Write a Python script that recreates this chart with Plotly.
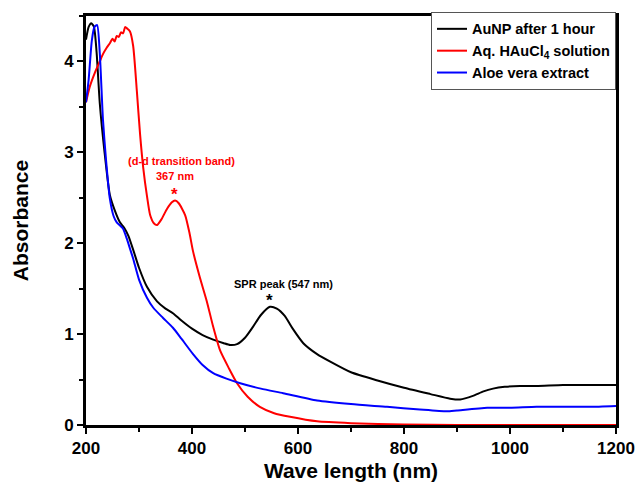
import plotly.graph_objects as go

# AuNP after 1 hour
wl_aunp = [200, 205, 210, 215, 220, 226, 235, 245, 255, 264, 272, 280, 290, 300, 315, 334, 350, 364, 380, 400,
           420, 440, 460, 472, 485, 500, 515, 530, 547, 560, 575, 590, 610, 636, 660, 700, 750, 800, 850, 887,
           906, 930, 950, 968, 990, 1019, 1050, 1100, 1150, 1200]
abs_aunp = [4.24, 4.38, 4.42, 4.38, 4.10, 3.54, 3.00, 2.53, 2.35, 2.23, 2.17, 2.08, 1.91, 1.73, 1.52, 1.36, 1.28, 1.23, 1.15, 1.06,
            0.99, 0.94, 0.90, 0.88, 0.89, 0.96, 1.08, 1.21, 1.30, 1.28, 1.20, 1.06, 0.90, 0.78, 0.70, 0.58, 0.49, 0.41, 0.34, 0.29,
            0.28, 0.32, 0.37, 0.40, 0.42, 0.43, 0.43, 0.44, 0.44, 0.44]

# Aq. HAuCl4 solution
wl_hau = [200, 207, 217, 226, 232, 239, 245, 250, 254, 258, 262, 266, 270, 274, 278, 283, 289, 296, 302,
          308, 315, 321, 328, 334, 342, 353, 362, 368, 375, 387, 395, 402, 415, 428, 440, 453, 470, 485, 505,
          528, 555, 585, 636, 700, 800, 900, 1200]
abs_hau = [3.55, 3.72, 3.88, 4.00, 4.08, 4.15, 4.20, 4.25, 4.22, 4.28, 4.27, 4.32, 4.31, 4.38, 4.36, 4.33, 4.17, 3.67, 3.20,
           2.83, 2.52, 2.31, 2.22, 2.20, 2.26, 2.38, 2.45, 2.47, 2.44, 2.31, 2.12, 1.91, 1.62, 1.36, 1.08, 0.82, 0.62, 0.46, 0.31,
           0.20, 0.13, 0.09, 0.04, 0.02, 0.005, 0.0, 0.0]

# Aloe vera extract
wl_aloe = [200, 205, 211, 216, 221, 226, 232, 238, 245, 252, 258, 265, 270, 277, 283, 289, 300, 315, 327, 345,
           364, 380, 402, 420, 440, 465, 491, 530, 572, 636, 700, 768, 830, 881, 900, 957, 1000, 1050, 1100, 1150, 1200]
abs_aloe = [3.55, 3.80, 4.23, 4.38, 4.40, 4.09, 3.36, 2.90, 2.49, 2.30, 2.23, 2.19, 2.16, 2.05, 1.94, 1.83, 1.60, 1.40, 1.29, 1.18,
            1.07, 0.95, 0.78, 0.66, 0.57, 0.51, 0.46, 0.40, 0.35, 0.27, 0.23, 0.20, 0.17, 0.15, 0.16, 0.19, 0.19, 0.20, 0.20, 0.20, 0.21]

x_ticks = [200, 400, 600, 800, 1000, 1200]
y_ticks = [0, 1, 2, 3, 4]

FONT = "Liberation Sans, Arial, sans-serif"

fig = go.Figure()
fig.add_trace(go.Scatter(x=wl_aunp, y=abs_aunp, mode="lines", name="AuNP after 1 hour",
                         line=dict(color="#000000", width=2, shape="spline", smoothing=0.6)))
fig.add_trace(go.Scatter(x=wl_hau, y=abs_hau, mode="lines", name="Aq. HAuCl<sub>4</sub> solution",
                         line=dict(color="#ff0000", width=2, shape="spline", smoothing=0.6)))
fig.add_trace(go.Scatter(x=wl_aloe, y=abs_aloe, mode="lines", name="Aloe vera extract",
                         line=dict(color="#0000ff", width=2, shape="spline", smoothing=0.6)))

axis_common = dict(showline=True, linewidth=3, linecolor="black", mirror=True, ticks="outside",
                   ticklen=6, tickwidth=2, tickcolor="black", showgrid=False, zeroline=False,
                   automargin=False,
                   tickfont=dict(family=FONT, size=17, color="black", weight="bold"))

fig.update_xaxes(range=[200, 1200], tickvals=x_ticks,
                 minor=dict(ticks="outside", dtick=100, tick0=200, ticklen=4, tickwidth=2, tickcolor="black", showgrid=False),
                 title=dict(text="<b>Wave length (nm)</b>", font=dict(family=FONT, size=21, color="black"), standoff=6),
                 **axis_common)
fig.update_yaxes(range=[0, 4.5], tickvals=y_ticks,
                 minor=dict(ticks="outside", dtick=0.5, tick0=0, ticklen=4, tickwidth=2, tickcolor="black", showgrid=False),
                 title=dict(text="<b>Absorbance</b>", font=dict(family=FONT, size=21, color="black"), standoff=30),
                 **axis_common)

fig.add_annotation(x=380, y=2.90, text="<b>(d-d transition band)</b>", showarrow=False,
                   font=dict(family=FONT, size=11, color="#ff0000"))
fig.add_annotation(x=367, y=2.74, text="<b>367 nm</b>", showarrow=False,
                   font=dict(family=FONT, size=11, color="#ff0000"))
fig.add_annotation(x=367, y=2.54, text="<b>*</b>", showarrow=False,
                   font=dict(family=FONT, size=17, color="#ff0000"))
fig.add_annotation(x=573, y=1.55, text="<b>SPR peak (547 nm)</b>", showarrow=False,
                   font=dict(family=FONT, size=11, color="black"))
fig.add_annotation(x=547, y=1.37, text="<b>*</b>", showarrow=False,
                   font=dict(family=FONT, size=17, color="black"))

fig.update_layout(
    width=636, height=490,
    margin=dict(l=86, r=20, t=12, b=65),
    plot_bgcolor="white", paper_bgcolor="white",
    showlegend=True,
    legend=dict(x=1.0, y=1.01, xanchor="right", yanchor="top", bgcolor="white",
                bordercolor="#555555", borderwidth=1,
                font=dict(family=FONT, size=14.5, color="black", weight="bold"),
                tracegroupgap=0, itemwidth=30),
)

fig.write_html("out.html")
